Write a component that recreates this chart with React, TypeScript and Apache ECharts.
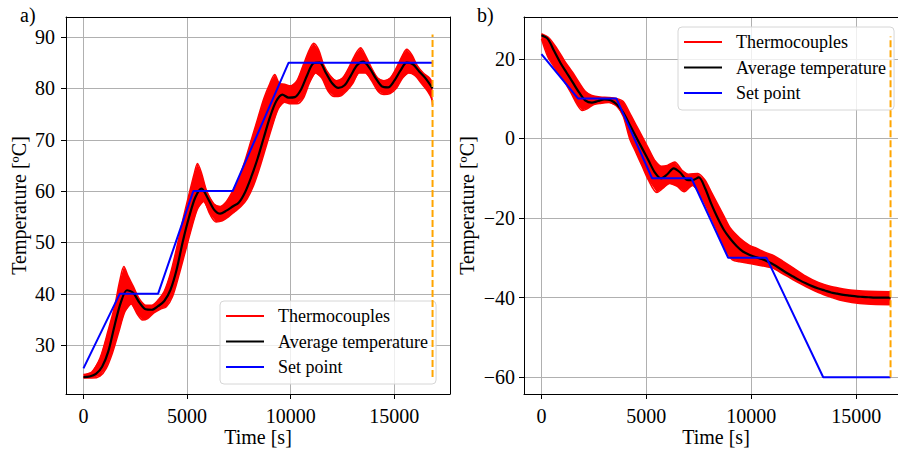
import React, { useEffect, useRef } from 'react';
import * as echarts from 'echarts';

const FONT = '"Liberation Serif", "Times New Roman", serif';

// ---------- Panel a (heating) ----------
const timeA = [0, 300, 600, 900, 1200, 1500, 1800, 2100, 2400, 2700, 3000, 3300, 3600, 3900, 4200, 4500, 4800, 5100, 5400, 5700, 6000, 6300, 6600, 6900, 7200, 7500, 7800, 8100, 8400, 8700, 9000, 9300, 9600, 9900, 10200, 10500, 10800, 11100, 11400, 11700, 12000, 12300, 12600, 12900, 13200, 13500, 13800, 14100, 14400, 14700, 15000, 15300, 15600, 15900, 16200, 16500, 16845];
const avgA = [23.8, 23.9, 24.4, 25.8, 28.8, 33.8, 38.3, 40.7, 40.2, 38.3, 37.0, 36.9, 37.6, 38.6, 40.8, 44.8, 50.3, 55.0, 58.8, 60.5, 58.6, 56.4, 55.6, 56.2, 57.0, 57.8, 59.8, 62.8, 66.3, 70.4, 74.4, 77.5, 78.8, 78.2, 78.3, 79.8, 82.6, 84.9, 85.0, 83.0, 81.0, 80.1, 80.6, 82.5, 84.5, 85.2, 84.0, 82.0, 80.4, 80.2, 81.5, 83.5, 85.0, 84.7, 83.3, 82.0, 80.0];

const upperTimeA = [0, 400, 800, 1200, 1500, 1750, 1950, 2150, 2400, 2700, 3000, 3300, 3600, 3900, 4200, 4500, 4800, 5100, 5350, 5500, 5700, 5950, 6300, 6600, 6900, 7200, 7500, 7800, 8100, 8400, 8700, 9000, 9230, 9450, 9700, 10000, 10300, 10600, 10900, 11110, 11350, 11600, 11900, 12200, 12500, 12800, 13100, 13370, 13600, 13900, 14200, 14500, 14800, 15100, 15400, 15600, 15850, 16100, 16400, 16700, 16845];
const upperA = [24.3, 24.8, 27.5, 33.0, 37.5, 42.5, 45.3, 43.5, 41.5, 39.0, 37.8, 37.8, 38.8, 40.5, 44.0, 49.0, 54.5, 59.5, 63.5, 65.4, 63.5, 60.0, 57.5, 57.0, 58.0, 60.0, 62.5, 66.0, 70.0, 74.0, 78.0, 81.0, 82.7, 81.0, 80.8, 80.5, 81.5, 84.5, 87.5, 88.8, 87.5, 84.5, 82.5, 81.5, 82.0, 84.0, 86.5, 87.9, 86.5, 84.0, 82.0, 81.5, 82.0, 84.0, 86.5, 87.6, 86.5, 84.5, 83.0, 82.0, 81.0];

const lowerTimeA = [0, 400, 800, 1100, 1400, 1700, 2000, 2300, 2600, 2850, 3100, 3400, 3700, 4000, 4300, 4600, 4900, 5200, 5500, 5800, 6100, 6400, 6700, 7000, 7300, 7600, 7900, 8200, 8500, 8800, 9100, 9400, 9700, 10000, 10300, 10600, 10900, 11200, 11500, 11800, 12100, 12400, 12700, 13000, 13300, 13600, 13900, 14200, 14500, 14800, 15100, 15400, 15700, 16000, 16300, 16600, 16800, 16845];
const lowerA = [23.6, 23.6, 24.0, 25.5, 28.5, 32.5, 36.5, 38.0, 36.0, 34.9, 35.2, 36.3, 37.0, 37.5, 39.5, 43.5, 48.0, 52.5, 56.5, 58.0, 55.5, 54.0, 54.2, 55.0, 56.0, 57.0, 58.5, 61.0, 64.5, 68.5, 72.5, 76.0, 77.3, 77.0, 77.0, 78.0, 81.0, 83.0, 82.0, 79.5, 78.4, 78.5, 79.5, 81.0, 83.0, 83.0, 81.5, 79.5, 78.8, 79.0, 80.0, 82.0, 83.0, 82.5, 81.0, 79.5, 78.0, 76.7];

const setTimeA = [0, 1750, 3600, 5300, 7200, 9900, 16845];
const setA = [25.5, 40, 40, 60, 60, 85, 85];

const endTimeA = 16845;
const endRangeA = [23.8, 90.5];

// ---------- Panel b (cooling) ----------
const timeB = [0, 300, 600, 900, 1200, 1500, 1800, 2100, 2400, 2700, 3000, 3300, 3600, 3900, 4200, 4500, 4800, 5100, 5400, 5700, 6000, 6300, 6600, 6900, 7200, 7500, 7800, 8100, 8400, 8700, 9000, 9300, 9600, 9900, 10200, 10500, 10800, 11100, 11400, 11700, 12000, 12300, 12600, 12900, 13200, 13500, 13800, 14100, 14400, 14700, 15000, 15300, 15600, 15900, 16200, 16500, 16640];
const avgB = [25.9, 25.0, 22.0, 19.0, 16.5, 14.0, 11.5, 9.5, 9.0, 9.4, 9.8, 9.6, 8.5, 6.5, 3.5, 0.5, -2.5, -5.5, -8.5, -10.0, -9.0, -7.5, -8.5, -10.3, -10.5, -9.8, -12.5, -16.5, -20.0, -23.0, -25.2, -27.0, -28.4, -29.2, -29.8, -30.3, -31.0, -31.8, -32.8, -33.8, -34.7, -35.6, -36.4, -37.1, -37.7, -38.2, -38.7, -39.0, -39.3, -39.5, -39.7, -39.8, -39.9, -40.0, -40.0, -40.0, -40.0];

const upperTimeB = [0, 350, 750, 1100, 1500, 1800, 2100, 2400, 2800, 3200, 3600, 3900, 4200, 4500, 4800, 5100, 5400, 5700, 6000, 6350, 6700, 7000, 7450, 7800, 8100, 8400, 8700, 9000, 9450, 9900, 10250, 10700, 11100, 11500, 12000, 12600, 13200, 13800, 14400, 15000, 15600, 16640];
const upperB = [26.3, 25.3, 22.5, 19.5, 16.5, 14.0, 11.8, 10.8, 10.4, 10.3, 10.0, 9.3, 6.5, 3.5, 0.5, -2.5, -5.5, -7.0, -6.8, -5.9, -8.0, -9.0, -8.8, -10.5, -13.5, -16.5, -19.5, -22.5, -25.0, -26.8, -27.6, -28.7, -29.5, -30.8, -32.5, -34.6, -36.2, -37.2, -37.8, -38.2, -38.4, -38.5];

const lowerTimeB = [0, 300, 600, 1000, 1400, 1700, 1950, 2200, 2500, 2800, 3200, 3600, 3900, 4200, 4500, 4800, 5100, 5500, 5800, 6100, 6450, 6800, 7200, 7500, 7800, 8100, 8400, 8800, 9100, 9450, 10000, 10700, 11000, 11500, 12000, 12600, 13200, 13800, 14200, 14800, 15500, 16640];
const lowerB = [25.0, 20.5, 18.0, 15.0, 11.5, 8.5, 7.0, 7.5, 8.5, 8.8, 9.0, 8.0, 5.5, 0.0, -3.5, -7.0, -10.5, -13.6, -12.5, -11.3, -12.0, -13.4, -11.8, -13.5, -16.5, -20.0, -23.5, -28.5, -30.5, -31.0, -31.5, -32.2, -32.5, -34.0, -35.5, -37.2, -38.7, -39.9, -40.6, -41.2, -41.6, -41.8];

const setTimeB = [0, 1750, 3575, 5275, 7150, 8900, 10730, 13430, 16640];
const setB = [21.2, 10, 10, -10, -10, -30, -30, -60, -60];

const endTimeB = 16640;
const endRangeB = [-60, 25.6];

// ---------- Axes / labels ----------
const xTicks = [0, 5000, 10000, 15000];
const yTicksA = [30, 40, 50, 60, 70, 80, 90];
const yTicksB = [-60, -40, -20, 0, 20];
const xRangeA = [-842, 17687];
const yRangeA = [20.5, 93.9];
const xRangeB = [-832, 17472];
const yRangeB = [-64.2, 30.5];
const legendNames = ['Thermocouples', 'Average temperature', 'Set point'];
const panelLabels = ['a)', 'b)'];

const zip = (t: number[], v: number[]) => t.map((x, i) => [x, v[i]]);
const fmt = (v: number) => (v < 0 ? '\u2212' + Math.abs(v) : String(v));

function bandSeries(up: number[][], low: number[][], xi: number, yi: number, anchor: number[]) {
  const pts = up.concat(low.slice().reverse());
  return {
    type: 'custom',
    name: '_band',
    xAxisIndex: xi,
    yAxisIndex: yi,
    silent: true,
    data: [anchor],
    z: 1,
    renderItem: (_p: any, api: any) => ({
      type: 'polygon',
      shape: { points: pts.map((p) => api.coord(p)) },
      style: { fill: '#ff0000', stroke: 'none' },
    }),
  };
}

function lineSeries(name: string, data: number[][], xi: number, yi: number, color: string, width: number, smooth: boolean | number, z: number, dash?: number[]) {
  return {
    type: 'line',
    name,
    xAxisIndex: xi,
    yAxisIndex: yi,
    data,
    color,
    showSymbol: false,
    symbol: 'none',
    smooth,
    z,
    silent: true,
    lineStyle: { color, width, type: dash ? dash : 'solid' },
  };
}

function axesFor(gridIndex: number, xr: number[], yr: number[], yTicks: number[], yNameGap: number, yLabelMargin: number) {
  const labelStyle = { fontFamily: FONT, fontSize: 20, color: '#000' };
  const axisLine = { show: true, onZero: false, lineStyle: { color: '#000', width: 1 } };
  const split = { show: true, lineStyle: { color: '#b0b0b0', width: 1 } };
  const x = [
    {
      type: 'value', gridIndex, position: 'bottom', min: xr[0], max: xr[1], splitNumber: 4,
      name: 'Time [s]', nameLocation: 'middle', nameGap: 33, nameMoveOverlap: false,
      nameTextStyle: labelStyle,
      axisLine,
      axisTick: { show: true, inside: false, length: 5, customValues: xTicks, lineStyle: { color: '#000', width: 1 } },
      axisLabel: { ...labelStyle, customValues: xTicks, margin: 12, formatter: fmt },
      splitLine: split,
    },
    {
      type: 'value', gridIndex, position: 'top', min: xr[0], max: xr[1],
      axisLine, axisTick: { show: false }, axisLabel: { show: false }, splitLine: { show: false },
    },
  ];
  const y = [
    {
      type: 'value', gridIndex, position: 'left', min: yr[0], max: yr[1],
      name: 'Temperature [ºC]', nameLocation: 'middle', nameGap: yNameGap, nameMoveOverlap: false,
      nameTextStyle: labelStyle,
      axisLine,
      axisTick: { show: true, inside: false, length: 5, customValues: yTicks, lineStyle: { color: '#000', width: 1 } },
      axisLabel: { ...labelStyle, customValues: yTicks, margin: yLabelMargin, formatter: fmt },
      splitLine: split,
    },
    {
      type: 'value', gridIndex, position: 'right', min: yr[0], max: yr[1],
      axisLine, axisTick: { show: false }, axisLabel: { show: false }, splitLine: { show: false },
    },
  ];
  return { x, y };
}

function legendAt(left: number, top: number) {
  return {
    data: legendNames,
    left,
    top,
    orient: 'vertical',
    icon: 'rect',
    itemWidth: 38,
    itemHeight: 2,
    itemGap: 7.5,
    padding: [6, 8, 8, 6],
    backgroundColor: 'rgba(255,255,255,0.8)',
    borderColor: '#d6d6d6',
    borderWidth: 1,
    borderRadius: 4,
    selectedMode: false,
    textStyle: { fontFamily: FONT, fontSize: 18, color: '#000', padding: [0, 0, 0, 9] },
  };
}

export default function App() {
  const ref = useRef<HTMLDivElement>(null);
  useEffect(() => {
    document.body.style.margin = '0';
    if (!ref.current) return;
    const chart = echarts.init(ref.current, null, { renderer: 'svg' });
    const axA = axesFor(0, xRangeA, yRangeA, yTicksA, 37, 11);
    const axB = axesFor(1, xRangeB, yRangeB, yTicksB, 47, 9);

    const upA = zip(upperTimeA, upperA);
    const loA = zip(lowerTimeA, lowerA);
    const upB = zip(upperTimeB, upperB);
    const loB = zip(lowerTimeB, lowerB);

    const option: any = {
      animation: false,
      backgroundColor: '#ffffff',
      title: [
        { text: panelLabels[0], left: 20, top: 5, padding: 0, textStyle: { fontFamily: FONT, fontSize: 20, fontWeight: 'normal', color: '#000' } },
        { text: panelLabels[1], left: 477, top: 5, padding: 0, textStyle: { fontFamily: FONT, fontSize: 20, fontWeight: 'normal', color: '#000' } },
      ],
      grid: [
        { left: 66, top: 17, width: 384, height: 377, outerBoundsMode: 'none', containLabel: false },
        { left: 524, top: 17, width: 384, height: 377, outerBoundsMode: 'none', containLabel: false },
      ],
      legend: [legendAt(220, 301), legendAt(678, 27)],
      xAxis: [...axA.x, ...axB.x],
      yAxis: [...axA.y, ...axB.y],
      series: [
        bandSeries(upA, loA, 0, 0, [0, 30]),
        lineSeries('Thermocouples', upA, 0, 0, '#ff0000', 1.5, 0.3, 2),
        lineSeries('Thermocouples', loA, 0, 0, '#ff0000', 1.5, 0.3, 2),
        lineSeries('Average temperature', zip(timeA, avgA), 0, 0, '#000000', 2.2, 0.3, 3),
        lineSeries('Set point', zip(setTimeA, setA), 0, 0, '#0000ff', 2, false, 4),
        lineSeries('_end', [[endTimeA, endRangeA[0]], [endTimeA, endRangeA[1]]], 0, 0, '#ffa500', 2, false, 5, [7, 3]),

        bandSeries(upB, loB, 2, 2, [0, 0]),
        lineSeries('Thermocouples', upB, 2, 2, '#ff0000', 1.5, 0.3, 2),
        lineSeries('Thermocouples', loB, 2, 2, '#ff0000', 1.5, 0.3, 2),
        lineSeries('Average temperature', zip(timeB, avgB), 2, 2, '#000000', 2.2, 0.3, 3),
        lineSeries('Set point', zip(setTimeB, setB), 2, 2, '#0000ff', 2, false, 4),
        lineSeries('_end', [[endTimeB, endRangeB[0]], [endTimeB, endRangeB[1]]], 2, 2, '#ffa500', 2, false, 5, [7, 3]),
      ],
    };
    chart.setOption(option);
    return () => chart.dispose();
  }, []);
  return <div ref={ref} style={{ width: 898, height: 451 }} />;
}
